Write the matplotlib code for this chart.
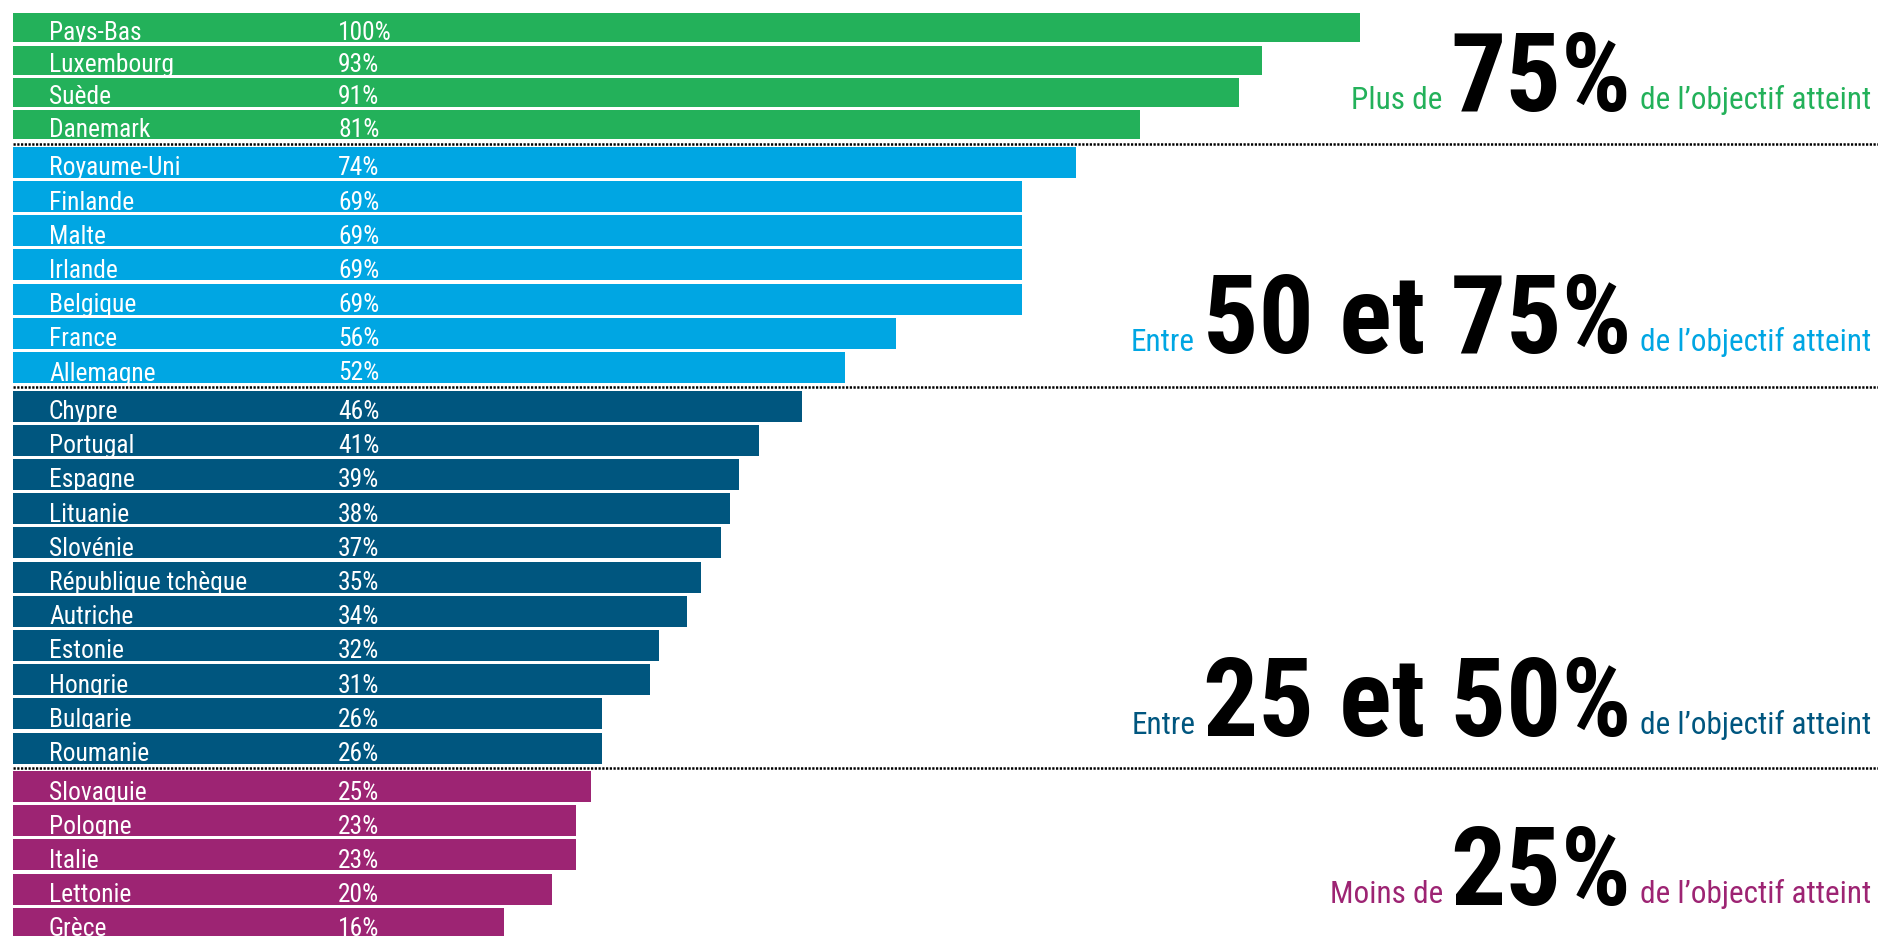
import matplotlib
matplotlib.use("Agg")
import matplotlib.pyplot as plt
from matplotlib import font_manager

# données (longueur des barres, en % de l'objectif)
pays = ["Pays-Bas", "Luxembourg", "Suède", "Danemark",
        "Royaume-Uni", "Finlande", "Malte", "Irlande", "Belgique", "France", "Allemagne",
        "Chypre", "Portugal", "Espagne", "Lituanie", "Slovénie", "République tchèque",
        "Autriche", "Estonie", "Hongrie", "Bulgarie", "Roumanie",
        "Slovaquie", "Pologne", "Italie", "Lettonie", "Grèce"]
valeurs = [102.9, 93.0, 90.6, 80.6,
           74.1, 68.6, 68.6, 68.6, 68.6, 55.8, 50.6,
           46.2, 41.9, 39.8, 38.9, 38.0, 36.0, 34.6, 31.7, 30.8, 25.9, 25.9,
           24.8, 23.3, 23.3, 20.9, 16.0]
etiquettes = ["100%", "93%", "91%", "81%",
              "74%", "69%", "69%", "69%", "69%", "56%", "52%",
              "46%", "41%", "39%", "38%", "37%", "35%", "34%", "32%", "31%", "26%", "26%",
              "25%", "23%", "23%", "20%", "16%"]
groupes = [4, 7, 11, 5]
couleurs = ["#23b15a", "#00a6e3", "#00567f", "#9d2473"]
prefixes = ["Plus de", "Entre", "Entre", "Moins de"]
chiffres = ["75%", "50 et 75%", "25 et 50%", "25%"]
suffixe = "de l\u2019objectif atteint"

# police condensée si disponible
noms = {f.name for f in font_manager.fontManager.ttflist}
police = "Liberation Sans"
for nom in ["Roboto Condensed", "Liberation Sans Narrow", "DejaVu Sans Condensed"]:
    if nom in noms:
        police = nom
        break
plt.rcParams["font.family"] = [police, "DejaVu Sans"]

W, H = 1878, 936
fig = plt.figure(figsize=(W / 100, H / 100), dpi=100, facecolor="white")
ax = fig.add_axes([0, 0, 1, 1])
x0, k = 346.7, 9.845          # position du zéro et pixels par point de %
ax.set_xlim(-x0 / k, (W - x0) / k)
ax.set_ylim(H, 0)
ax.axis("off")

# disposition verticale (en pixels)
pas = [32.3, 34.2, 34.2, 34.2]
haut = 13.3
centres, hauteurs, couls, seps = [], [], [], []
for g, n in enumerate(groupes):
    if g > 0:
        seps.append(haut + 1.0)
        haut += 4.3
    for j in range(n):
        h = pas[g] - 3.2
        centres.append(haut + h / 2)
        hauteurs.append(h)
        couls.append(couleurs[g])
        haut += pas[g]

gauche = (13 - x0) / k
ax.barh(centres, [v - gauche for v in valeurs], left=gauche, height=hauteurs,
        color=couls, align="center")

for c, h, nom, lab in zip(centres, hauteurs, pays, etiquettes):
    yb = c + h / 2 - 2.5
    ax.text((49 - x0) / k, yb, nom, color="white", fontsize=18.4, va="baseline", ha="left")
    ax.text((338 - x0) / k, yb, lab, color="white", fontsize=18.4, va="baseline", ha="left")

for y in seps:
    ax.plot([gauche, (W - x0) / k], [y, y], color="black", lw=1.8,
            linestyle=(0, (0.9, 0.6)), solid_capstyle="butt")

# textes de droite
ov = fig.add_axes([0, 0, 1, 1])
ov.set_xlim(0, W)
ov.set_ylim(H, 0)
ov.axis("off")
ov.patch.set_visible(False)
rend = fig.canvas.get_renderer()

lignes = [109, 351, 734, 903]
for g in range(4):
    x = 1871
    t = ov.text(x, lignes[g], suffixe, color=couleurs[g], fontsize=22.5,
                ha="right", va="baseline")
    x -= t.get_window_extent(renderer=rend).width + 8
    t = ov.text(x, lignes[g] + 2, chiffres[g], color="black", fontsize=79,
                fontweight="bold", ha="right", va="baseline")
    x -= t.get_window_extent(renderer=rend).width + 8
    ov.text(x, lignes[g], prefixes[g], color=couleurs[g], fontsize=22.5,
            ha="right", va="baseline")

fig.savefig("out.png", dpi=100, facecolor="white")
